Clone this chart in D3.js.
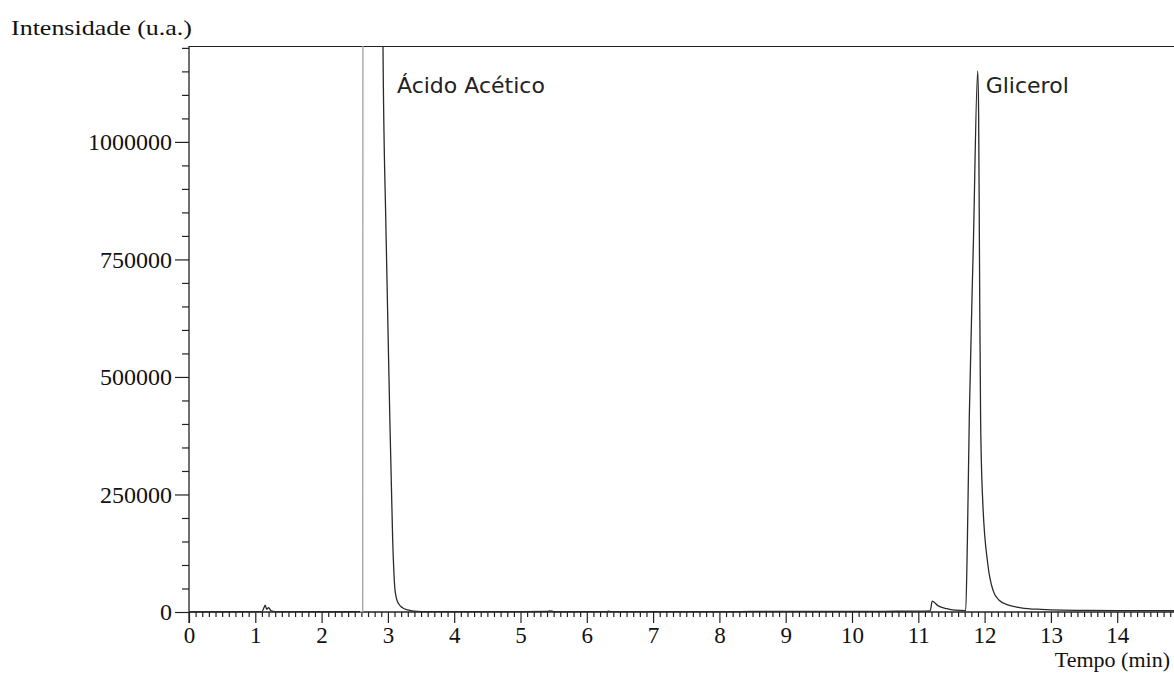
<!DOCTYPE html>
<html>
<head>
<meta charset="utf-8">
<script src="https://cdn.jsdelivr.net/npm/d3@7"></script>
<style>
  html, body { margin: 0; padding: 0; background: #fff; }
  svg { display: block; }
</style>
</head>
<body>
<svg id="chart" width="1174" height="673"></svg>
<script>
// ---- data ----
const timeMin = [0, 0.5, 1.0, 1.10, 1.13, 1.15, 1.17, 1.20, 1.24, 1.30, 1.6, 2.0, 2.4,
  2.62, 2.63, 2.90, 2.926, 2.97, 3.017, 3.072, 3.107, 3.15, 3.22, 3.30, 3.44, 3.6, 4.0,
  5.0, 5.4, 5.45, 5.5, 6.0, 6.3, 6.33, 6.36, 7.0, 8.0, 8.5, 9.0, 9.3, 10.0, 10.5, 11.0,
  11.18, 11.21, 11.30, 11.43, 11.55, 11.715, 11.74, 11.77, 11.83, 11.896, 11.91, 11.925,
  11.94, 11.971, 12.05, 12.13, 12.22, 12.35, 12.55, 12.85, 13.0, 13.5, 14.0, 14.5, 15.0];
const intensity = [500, 500, 600, 1000, 9000, 14500, 6000, 9000, 2500, 800, 600, 500, 500,
  600, 4000000, 4000000, 1204000, 820000, 494000, 153000, 47000, 20000, 9000, 4500, 1500, 900, 700,
  700, 1200, 2500, 900, 700, 1000, 2000, 800, 700, 700, 1200, 1500, 1500, 1200, 1500, 1800,
  2500, 23000, 13000, 7000, 4000, 3000, 150000, 420000, 780000, 1151000, 1060000, 700000,
  408000, 238000, 100000, 45000, 25000, 15000, 9000, 5500, 4500, 3500, 3000, 3000, 2500];

const xMajorTicks = [0, 1, 2, 3, 4, 5, 6, 7, 8, 9, 10, 11, 12, 13, 14];
const yMajorTicks = [0, 250000, 500000, 750000, 1000000];
const peakNames = ["Ácido Acético", "Glicerol"];
const peakTimes = [2.926, 11.896];
const yTitle = "Intensidade (u.a.)";
const xTitle = "Tempo (min)";

// ---- layout ----
const svg = d3.select("#chart");
const mLeft = 189, mTop = 46, mBottom = 612;
const x = d3.scaleLinear().domain([0, 15]).range([mLeft, mLeft + 15 * 66.3]);
const y = d3.scaleLinear().domain([0, 1204000]).range([mBottom, mTop]);

const serif = "'Liberation Serif', 'Times New Roman', serif";
const sans = "'DejaVu Sans', Verdana, sans-serif";

const defs = svg.append("defs");
defs.append("clipPath").attr("id", "clip")
  .append("rect").attr("x", mLeft).attr("y", mTop).attr("width", 1174 - mLeft).attr("height", mBottom - mTop + 2);

// stroke gradient: the steep leading edge of the solvent peak is rendered lighter
const dark = "#2a2a2a", light = "#a0a0a0";
const off = t => (t / 15);
const grad = defs.append("linearGradient").attr("id", "traceGrad")
  .attr("gradientUnits", "userSpaceOnUse")
  .attr("x1", x(0)).attr("x2", x(15)).attr("y1", 0).attr("y2", 0);
[[0, dark], [off(2.58), dark], [off(2.58), light], [off(2.72), light], [off(2.72), dark], [1, dark]]
  .forEach(([o, c]) => grad.append("stop").attr("offset", o).attr("stop-color", c));

// frame top line
svg.append("line").attr("x1", mLeft).attr("x2", 1174).attr("y1", mTop + 0.5).attr("y2", mTop + 0.5)
  .attr("stroke", "#222").attr("stroke-width", 1.2);

// x axis
const xMinor = d3.range(0, 150).map(d => d / 10).filter(d => Math.abs(d - Math.round(d)) > 1e-6);
const xAxisMinor = d3.axisBottom(x).tickValues(xMinor).tickSize(5).tickFormat("");
const xAxisMajor = d3.axisBottom(x).tickValues(xMajorTicks).tickSize(11).tickPadding(4).tickFormat(d3.format("d"));
const gxm = svg.append("g").attr("transform", `translate(0,${mBottom})`).call(xAxisMinor);
const gx = svg.append("g").attr("transform", `translate(0,${mBottom})`).call(xAxisMajor);
[gxm, gx].forEach(g => {
  g.select(".domain").remove();
  g.selectAll("line").attr("stroke", "#222").attr("stroke-width", 1.2);
});
gx.selectAll("text").attr("font-family", serif).attr("font-size", 23).attr("fill", "#111");
svg.append("line").attr("x1", mLeft).attr("x2", 1174).attr("y1", mBottom).attr("y2", mBottom)
  .attr("stroke", "#222").attr("stroke-width", 1.3);

// y axis
const yMinor = d3.range(0, 1200001, 50000).filter(d => d % 250000 !== 0);
const yAxisMinor = d3.axisLeft(y).tickValues(yMinor).tickSize(7).tickFormat("");
const yAxisMajor = d3.axisLeft(y).tickValues(yMajorTicks).tickSize(14).tickPadding(3).tickFormat(d3.format("d"));
const gym = svg.append("g").attr("transform", `translate(${mLeft},0)`).call(yAxisMinor);
const gy = svg.append("g").attr("transform", `translate(${mLeft},0)`).call(yAxisMajor);
[gym, gy].forEach(g => {
  g.select(".domain").remove();
  g.selectAll("line").attr("stroke", "#222").attr("stroke-width", 1.2);
});
gy.selectAll("text").attr("font-family", serif).attr("font-size", 24).attr("fill", "#111");
svg.append("line").attr("x1", mLeft).attr("x2", mLeft).attr("y1", mTop).attr("y2", mBottom + 11)
  .attr("stroke", "#222").attr("stroke-width", 1.3);

// trace
const line = d3.line().x((d, i) => x(timeMin[i])).y(d => y(d)).curve(d3.curveMonotoneX);
svg.append("path").datum(intensity)
  .attr("clip-path", "url(#clip)")
  .attr("d", line)
  .attr("fill", "none").attr("stroke", "url(#traceGrad)").attr("stroke-width", 1.3);

// peak labels
svg.selectAll("text.peak").data(peakNames).enter().append("text")
  .attr("class", "peak")
  .attr("x", (d, i) => x(peakTimes[i]) + (i === 0 ? 14 : 8))
  .attr("y", 93)
  .attr("font-family", sans).attr("font-size", 22).attr("fill", "#222")
  .text(d => d);

// axis titles
svg.append("text").attr("x", 11).attr("y", 35)
  .attr("font-family", serif).attr("font-size", 22).attr("fill", "#111")
  .attr("textLength", 181).attr("lengthAdjust", "spacingAndGlyphs")
  .text(yTitle);
svg.append("text").attr("x", 1170).attr("y", 667).attr("text-anchor", "end")
  .attr("font-family", serif).attr("font-size", 22).attr("fill", "#111")
  .text(xTitle);
</script>
</body>
</html>
